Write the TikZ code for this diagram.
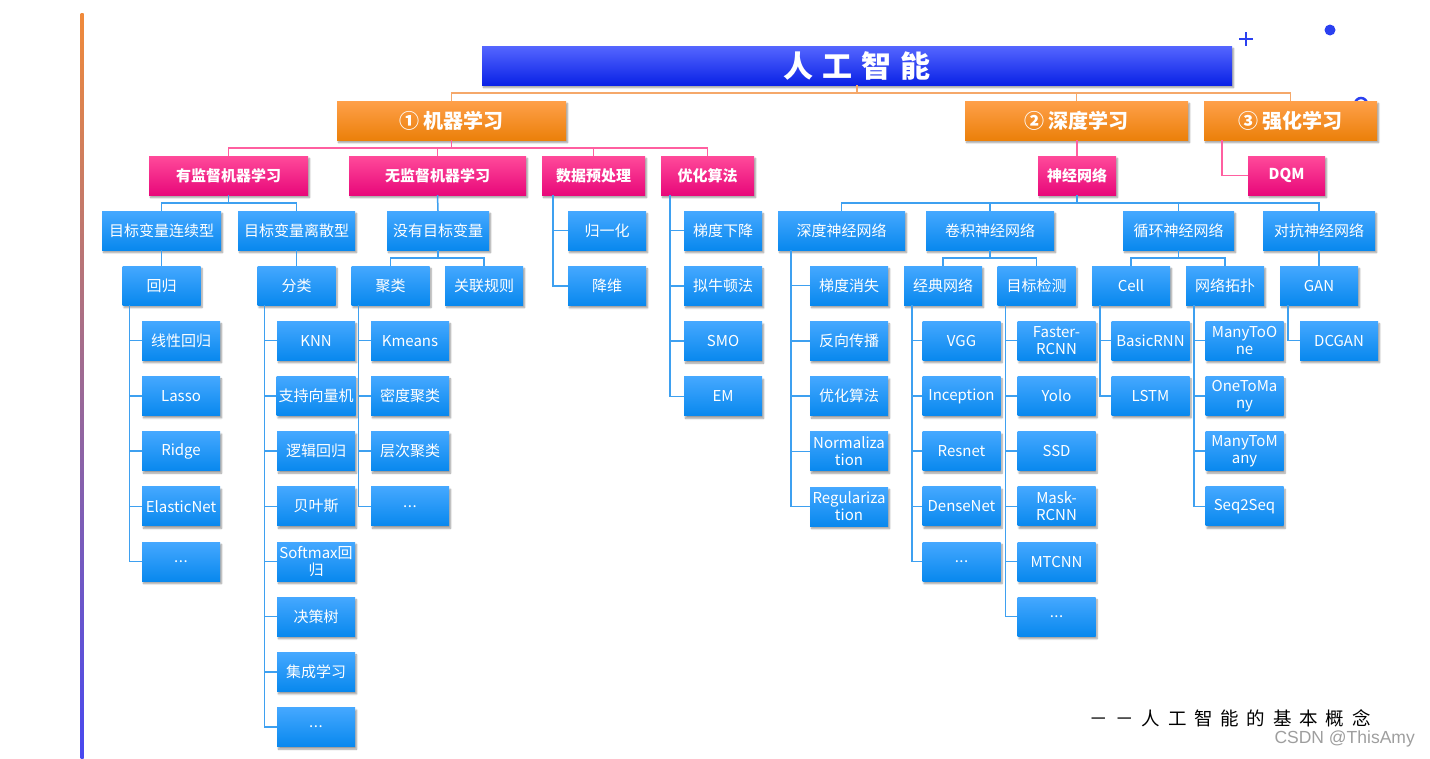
\documentclass[tikz,border=0pt]{standalone}
\usepackage{fontspec}
\newfontfamily\cjk{Noto Sans CJK SC}
\newfontfamily\wmfont{Liberation Sans}
\definecolor{aiTitleTop}{HTML}{5566FF}
\definecolor{aiTitleBot}{HTML}{0A22E6}
\definecolor{fieldTop}{HTML}{FFA04A}
\definecolor{fieldBot}{HTML}{EB800A}
\definecolor{topicTop}{HTML}{FF4A9A}
\definecolor{topicBot}{HTML}{E8087A}
\definecolor{leafTop}{HTML}{45A8FF}
\definecolor{leafBot}{HTML}{0888EE}
\definecolor{lineOrange}{HTML}{F5A86A}
\definecolor{linePink}{HTML}{FF5FA0}
\definecolor{lineBlue}{HTML}{3EA0F0}
\definecolor{decoBlue}{HTML}{2A40F0}
\definecolor{edgeTop}{HTML}{F08A3A}
\definecolor{edgeMid}{HTML}{C86C9E}
\definecolor{edgeBot}{HTML}{4848F0}
\usetikzlibrary{shadows.blur, calc}
\newcommand{\etcdots}{.\hspace{0.5pt}.\hspace{0.5pt}.}
\newcommand{\capgap}{\hspace{7.8pt}}
\newcommand{\titlegap}{\hspace{9pt}}

\tikzset{
  card/.style={minimum height=39pt, inner sep=2pt, align=center, text=white,
    blur shadow={shadow xshift=1.5pt, shadow yshift=-2.5pt,
      shadow blur steps=6, shadow opacity=40}},
  rootcard/.style={card, top color=aiTitleTop, bottom color=aiTitleBot,
    minimum width=750pt, font=\cjk\bfseries\fontsize{30}{32}\selectfont},
  fieldcard/.style={card, top color=fieldTop, bottom color=fieldBot,
    font=\cjk\bfseries\fontsize{20}{22}\selectfont},
  topiccard/.style={card, top color=topicTop, bottom color=topicBot,
    font=\cjk\bfseries\fontsize{15}{17}\selectfont},
  leaf/.style={card, top color=leafTop, bottom color=leafBot,
    minimum width=78pt, font=\cjk\fontsize{15}{17}\selectfont},
  orangeline/.style={draw=lineOrange, line width=1.5pt},
  pinkline/.style={draw=linePink, line width=1.5pt},
  blueline/.style={draw=lineBlue, line width=1.5pt}
}

\begin{document}
\begin{tikzpicture}[x=1pt, y=-1pt]
  \useasboundingbox (0,0) rectangle (1430,758);

  % decorations
  \shade[top color=edgeTop, middle color=edgeMid, bottom color=edgeBot]
    (80.5,13) rectangle (83.5,758);
  \draw[decoBlue, line width=2pt] (1239,39) -- (1253,39) (1246,32) -- (1246,46);
  \fill[decoBlue] (1330,30) circle (5.5pt);
  \draw[decoBlue, line width=2.5pt] (1361,104) circle (6pt);

  % root and fields
  \node[rootcard] (ai) at (857,65.5) {人\titlegap{}工\titlegap{}智\titlegap{}能};
  \node[fieldcard, minimum width=229pt] (ml) at (451.5,120.5) {① 机器学习};
  \node[fieldcard, minimum width=223pt] (dl) at (1076.5,120.5) {② 深度学习};
  \node[fieldcard, minimum width=173pt] (rl) at (1290.5,120.5) {③ 强化学习};

  % topics
  \node[topiccard, minimum width=159pt] (sup) at (228.5,175.5) {有监督机器学习};
  \node[topiccard, minimum width=177pt] (unsup) at (437.5,175.5) {无监督机器学习};
  \node[topiccard, minimum width=103pt] (prep) at (593.5,175.5) {数据预处理};
  \node[topiccard, minimum width=93pt] (optim) at (707.5,175.5) {优化算法};
  \node[topiccard, minimum width=78pt] (nn) at (1077,175.5) {神经网络};
  \node[topiccard, minimum width=77pt] (dqm) at (1286.5,175.5) {DQM};

  % third level
  \node[leaf, minimum width=119pt] (cont) at (161.5,230.5) {目标变量连续型};
  \node[leaf, minimum width=117pt] (disc) at (296.5,230.5) {目标变量离散型};
  \node[leaf, minimum width=102pt] (notgt) at (438,230.5) {没有目标变量};
  \node[leaf, minimum width=127pt] (dnn) at (841.5,230.5) {深度神经网络};
  \node[leaf, minimum width=128pt] (cnn) at (990,230.5) {卷积神经网络};
  \node[leaf, minimum width=111pt] (rnn) at (1178.5,230.5) {循环神经网络};
  \node[leaf, minimum width=112pt] (adv) at (1319,230.5) {对抗神经网络};

  % fourth level
  \node[leaf] (reg) at (161.5,285.5) {回归};
  \node[leaf] (cls) at (296.5,285.5) {分类};
  \node[leaf] (clu) at (390.5,285.5) {聚类};
  \node[leaf] (assoc) at (484,285.5) {关联规则};
  \node[leaf] (classic) at (943,285.5) {经典网络};
  \node[leaf] (det) at (1036.5,285.5) {目标检测};
  \node[leaf] (cell) at (1131,285.5) {Cell};
  \node[leaf] (topo) at (1225,285.5) {网络拓扑};
  \node[leaf] (gan) at (1319,285.5) {GAN};

  % lists
  \foreach \t [count=\i] in {归一化, 降维}
    \node[leaf] (prep\i) at (607,{175.5+55.2*\i}) {\t};
  \foreach \t [count=\i] in {梯度下降, 拟牛顿法, SMO, EM}
    \node[leaf] (optim\i) at (723,{175.5+55.2*\i}) {\t};
  \foreach \t [count=\i] in {梯度消失, 反向传播, 优化算法, Normaliza\\tion, Regulariza\\tion}
    \node[leaf] (dnn\i) at (849,{230.5+55.2*\i}) {\t};
  \foreach \t [count=\i] in {线性回归, Lasso, Ridge, ElasticNet, \etcdots}
    \node[leaf] (reg\i) at (181,{285.5+55.2*\i}) {\t};
  \foreach \t [count=\i] in {KNN, 支持向量机, 逻辑回归, 贝叶斯, Softmax回\\归, 决策树, 集成学习, \etcdots}
    \node[leaf] (cls\i) at (316,{285.5+55.2*\i}) {\t};
  \foreach \t [count=\i] in {Kmeans, 密度聚类, 层次聚类, \etcdots}
    \node[leaf] (clu\i) at (410,{285.5+55.2*\i}) {\t};
  \foreach \t [count=\i] in {VGG, Inception, Resnet, DenseNet, \etcdots}
    \node[leaf] (classic\i) at (961.5,{285.5+55.2*\i}) {\t};
  \foreach \t [count=\i] in {Faster-\\RCNN, Yolo, SSD, Mask-\\RCNN, MTCNN, \etcdots}
    \node[leaf] (det\i) at (1056.5,{285.5+55.2*\i}) {\t};
  \foreach \t [count=\i] in {BasicRNN, LSTM}
    \node[leaf] (cell\i) at (1150.5,{285.5+55.2*\i}) {\t};
  \foreach \t [count=\i] in {ManyToO\\ne, OneToMa\\ny, ManyToM\\any, Seq2Seq}
    \node[leaf] (topo\i) at (1244.5,{285.5+55.2*\i}) {\t};
  \node[leaf] (gan1) at (1339,340.7) {DCGAN};

  % connectors
  \foreach \c in {ml, dl, rl}
    \draw[orangeline] (ai.south) -- ++(0,8) -| (\c.north);
  \foreach \c in {sup, unsup, prep, optim}
    \draw[pinkline] (ml.south) -- ++(0,8) -| (\c.north);
  \draw[pinkline] (nn.north |- dl.south) -- (nn.north);
  \draw[pinkline] ([xshift=18pt]rl.south west) |- (dqm.west);

  \foreach \c in {cont, disc}
    \draw[blueline] (sup.south) -- ++(0,8) -| (\c.north);
  \draw[blueline] (unsup.south) -- (notgt.north);
  \foreach \c in {dnn, cnn, rnn, adv}
    \draw[blueline] (nn.south) -- ++(0,8) -| (\c.north);
  \draw[blueline] (cont.south) -- (reg.north);
  \draw[blueline] (disc.south) -- (cls.north);
  \foreach \c in {clu, assoc}
    \draw[blueline] (notgt.south) -- ++(0,8) -| (\c.north);
  \foreach \c in {classic, det}
    \draw[blueline] (cnn.south) -- ++(0,8) -| (\c.north);
  \foreach \c in {cell, topo}
    \draw[blueline] (rnn.south) -- ++(0,8) -| (\c.north);
  \draw[blueline] (adv.south) -- (gan.north);

  \foreach \i in {1,2}
    \draw[blueline] ([xshift=11pt]prep.south west) |- (prep\i.west);
  \foreach \i in {1,...,4}
    \draw[blueline] ([xshift=9pt]optim.south west) |- (optim\i.west);
  \foreach \i in {1,...,5}
    \draw[blueline] ([xshift=13pt]dnn.south west) |- (dnn\i.west);
  \foreach \i in {1,...,5}
    \draw[blueline] ([xshift=7pt]reg.south west) |- (reg\i.west);
  \foreach \i in {1,...,8}
    \draw[blueline] ([xshift=7pt]cls.south west) |- (cls\i.west);
  \foreach \i in {1,...,4}
    \draw[blueline] ([xshift=7pt]clu.south west) |- (clu\i.west);
  \foreach \i in {1,...,5}
    \draw[blueline] ([xshift=8pt]classic.south west) |- (classic\i.west);
  \foreach \i in {1,...,6}
    \draw[blueline] ([xshift=8pt]det.south west) |- (det\i.west);
  \foreach \i in {1,2}
    \draw[blueline] ([xshift=8pt]cell.south west) |- (cell\i.west);
  \foreach \i in {1,...,4}
    \draw[blueline] ([xshift=8pt]topo.south west) |- (topo\i.west);
  \draw[blueline] ([xshift=8pt]gan.south west) |- (gan1.west);

  % caption
  \node[anchor=west, inner sep=0pt, font=\cjk\fontsize{18.5}{20}\selectfont] (caption) at (1089,718)
    {－\capgap{}－\capgap{}人\capgap{}工\capgap{}智\capgap{}能\capgap{}的\capgap{}基\capgap{}本\capgap{}概\capgap{}念};
  \node[anchor=east, inner sep=0pt, text=black!38, font=\wmfont\fontsize{17.5}{19}\selectfont] (mark) at (1415,739)
    {CSDN @ThisAmy};
\end{tikzpicture}
\end{document}
